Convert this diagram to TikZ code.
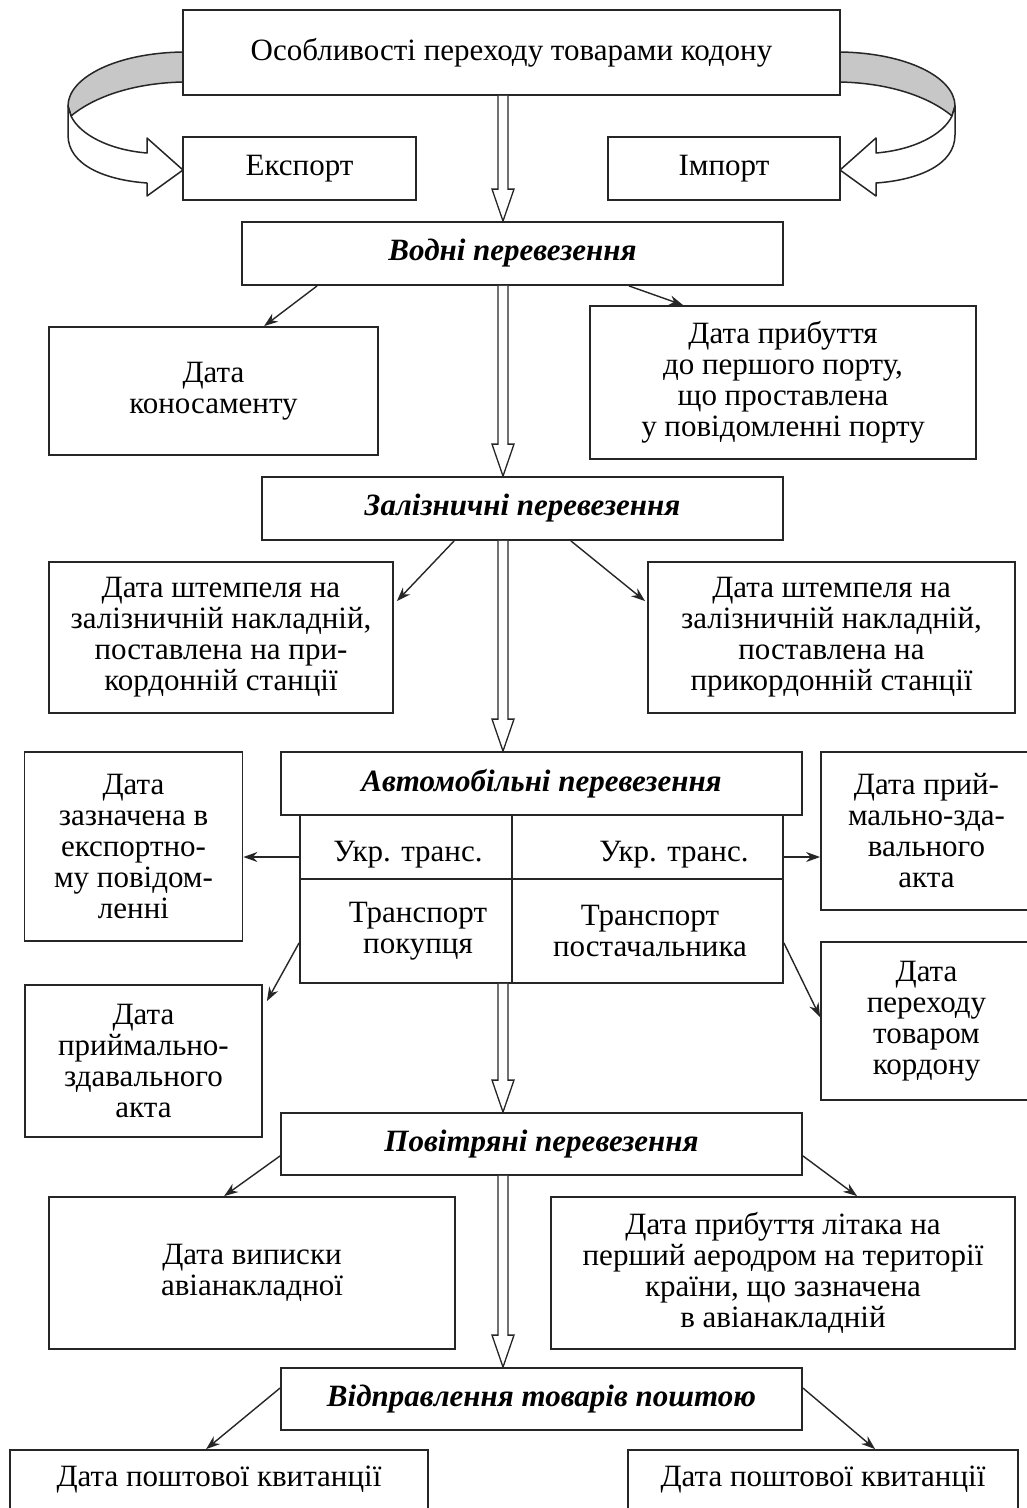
\documentclass[tikz,border=0pt]{standalone}
\usepackage{fontspec}
\setmainfont{Liberation Serif}
\usetikzlibrary{arrows.meta,calc}

% hollow double-shafted arrow pointing down, on the vertical axis
\newcommand\bigdown[2]{%
  \path (#1 -| axis) coordinate (p1) (#2 -| axis) coordinate (p2);
  \draw[hollow] ($(p1)+(-5,0)$) -- ($(p2)+(-5,-32)$) -- ($(p2)+(-11,-32)$) -- (p2)
     -- ($(p2)+(11,-32)$) -- ($(p2)+(5,-32)$) -- ($(p1)+(5,0)$);}

\begin{document}
\begin{tikzpicture}[x=1pt,y=-1pt,
  box/.style={draw=black!85, line width=1.8pt, fill=white, align=center, inner sep=0pt,
              font=\fontsize{31}{31}\selectfont},
  head/.style={box, font=\fontsize{31}{31}\selectfont\bfseries\itshape},
  cell/.style={draw=black!85, line width=1.8pt, inner sep=0pt},
  txt/.style={align=center, inner sep=0pt, font=\fontsize{31}{31}\selectfont},
  conn/.style={draw=black!85, line width=1.4pt, -{Stealth[length=14pt,width=10pt]}},
  hollow/.style={draw=black!85, line width=1.3pt, fill=white, line join=miter},
  band/.style={draw=black!85, line width=1.5pt, line join=round}]
\useasboundingbox (0,0) rectangle (1026,1508);
\fill[white] (0,0) rectangle (1026,1508);

% twisted ribbon arrows from the title to Export / Import
\foreach \sx/\dx in {1/0,-1/1023}{
\begin{scope}[xshift=\dx pt, xscale=\sx]
  \filldraw[band, fill=black!22] (183,52) .. controls (115,53) and (68,78) .. (68,106)
     -- (71,116) .. controls (95,96) and (135,83) .. (183,82) -- cycle;
  \filldraw[band, fill=white] (68,106) -- (68,135) .. controls (68,165) and (105,180) .. (147,183)
     -- (147,196) -- (183,170) -- (147,138) -- (147,153)
     .. controls (110,150) and (80,135) .. (71,116) -- cycle;
\end{scope}}

\coordinate (axis) at (503,0);

% title and first level
\node[box, minimum width=657, minimum height=85] (top) at (511.5,52.5) {Особливості переходу товарами кодону};
\node[box, minimum width=233, minimum height=63] (exp) at (299.5,168.5) {Експорт};
\node[box, minimum width=232, minimum height=63] (imp) at (724,168.5) {Імпорт};

% water transport
\node[head, minimum width=541, minimum height=63] (water) at (512.5,253.5) {Водні перевезення};
\node[box, minimum width=329, minimum height=128] (kon) at (213.5,391) {Дата\\коносаменту};
\node[box, minimum width=386, minimum height=153] (port) at (783,382.5)
  {Дата прибуття\\до першого порту,\\що проставлена\\у повідомленні порту};

% rail transport
\node[head, minimum width=521, minimum height=63] (rail) at (522.5,508.5) {Залізничні перевезення};
\node[box, minimum width=344, minimum height=151] (railL) at (221,637.5)
  {Дата штемпеля на\\залізничній накладній,\\поставлена на при-\\кордонній станції};
\node[box, minimum width=367, minimum height=151] (railR) at (831.5,637.5)
  {Дата штемпеля на\\залізничній накладній,\\поставлена на\\прикордонній станції};

% road transport with its table
\node[head, minimum width=521, minimum height=63] (auto) at (541.5,783.5) {Автомобільні перевезення};
\node[cell, minimum width=212, minimum height=64] (c11) at (406,847) {};
\node[cell, minimum width=271, minimum height=64] (c12) at (647.5,847) {};
\node[cell, minimum width=212, minimum height=104] (c21) at (406,931) {};
\node[cell, minimum width=271, minimum height=104] (c22) at (647.5,931) {};
\node[txt] (t11) at (408,855) {Укр. транс.};
\node[txt] (t12) at (674,855) {Укр. транс.};
\node[txt] (t21) at (418,931) {Транспорт\\покупця};
\node[txt] (t22) at (650,931) {Транспорт\\постачальника};

\node[box, minimum width=218, minimum height=189] (autoLT) at (133.5,846.5)
  {Дата\\зазначена в\\експортно-\\му повідом-\\ленні};
\node[box, minimum width=211, minimum height=158] (autoRT) at (926.5,831)
  {Дата прий-\\мально-зда-\\вального\\акта};
\node[box, minimum width=237, minimum height=152] (autoLB) at (143.5,1061)
  {Дата\\приймально-\\здавального\\акта};
\node[box, minimum width=211, minimum height=158] (autoRB) at (926.5,1021)
  {Дата\\переходу\\товаром\\кордону};

% air transport
\node[head, minimum width=521, minimum height=62] (air) at (541.5,1144) {Повітряні перевезення};
\node[box, minimum width=406, minimum height=152] (airL) at (252,1273) {Дата виписки\\авіанакладної};
\node[box, minimum width=464, minimum height=152] (airR) at (783,1273)
  {Дата прибуття літака на\\перший аеродром на території\\країни, що зазначена\\в авіанакладній};

% postal shipment
\node[head, minimum width=521, minimum height=62] (post) at (541.5,1399) {Відправлення товарів поштою};
\node[box, minimum width=418, minimum height=60] (postL) at (219,1480) {Дата поштової квитанції};
\node[box, minimum width=390, minimum height=60] (postR) at (823,1480) {Дата поштової квитанції};

% main hollow arrows
\bigdown{top.south}{water.north}
\bigdown{water.south}{rail.north}
\bigdown{rail.south}{auto.north}
\bigdown{c21.south}{air.north}
\bigdown{air.south}{post.north}

% thin connectors
\draw[conn] ($(water.south west)+(76,0)$) -- ($(kon.north west)+(216,0)$);
\draw[conn] ($(water.south east)+(-155,0)$) -- ($(port.north west)+(94,0)$);
\draw[conn] ($(rail.south west)+(193,0)$) -- ($(railL.north east)+(3,40)$);
\draw[conn] ($(rail.south east)+(-213,0)$) -- ($(railR.north west)+(-2,40)$);
\path ($(c11.west)+(0,10)$) coordinate (lt1) ($(c12.east)+(0,10)$) coordinate (rt1);
\draw[conn] (lt1) -- (lt1 -| autoLT.east);
\draw[conn] (rt1) -- (rt1 -| autoRT.west);
\draw[conn] ($(c21.south west)+(0,-41)$) -- ($(autoLB.north east)+(4,17)$);
\draw[conn] ($(c22.south east)+(0,-41)$) -- ($(autoRB.north west)+(0,76)$);
\draw[conn] ($(air.south west)+(0,-20)$) -- ($(airL.north west)+(176,0)$);
\draw[conn] ($(air.south east)+(0,-20)$) -- ($(airR.north west)+(307,0)$);
\draw[conn] ($(post.west)+(0,-11)$) -- ($(postL.north west)+(197,0)$);
\draw[conn] ($(post.east)+(0,-11)$) -- ($(postR.north west)+(248,0)$);
\end{tikzpicture}
\end{document}
